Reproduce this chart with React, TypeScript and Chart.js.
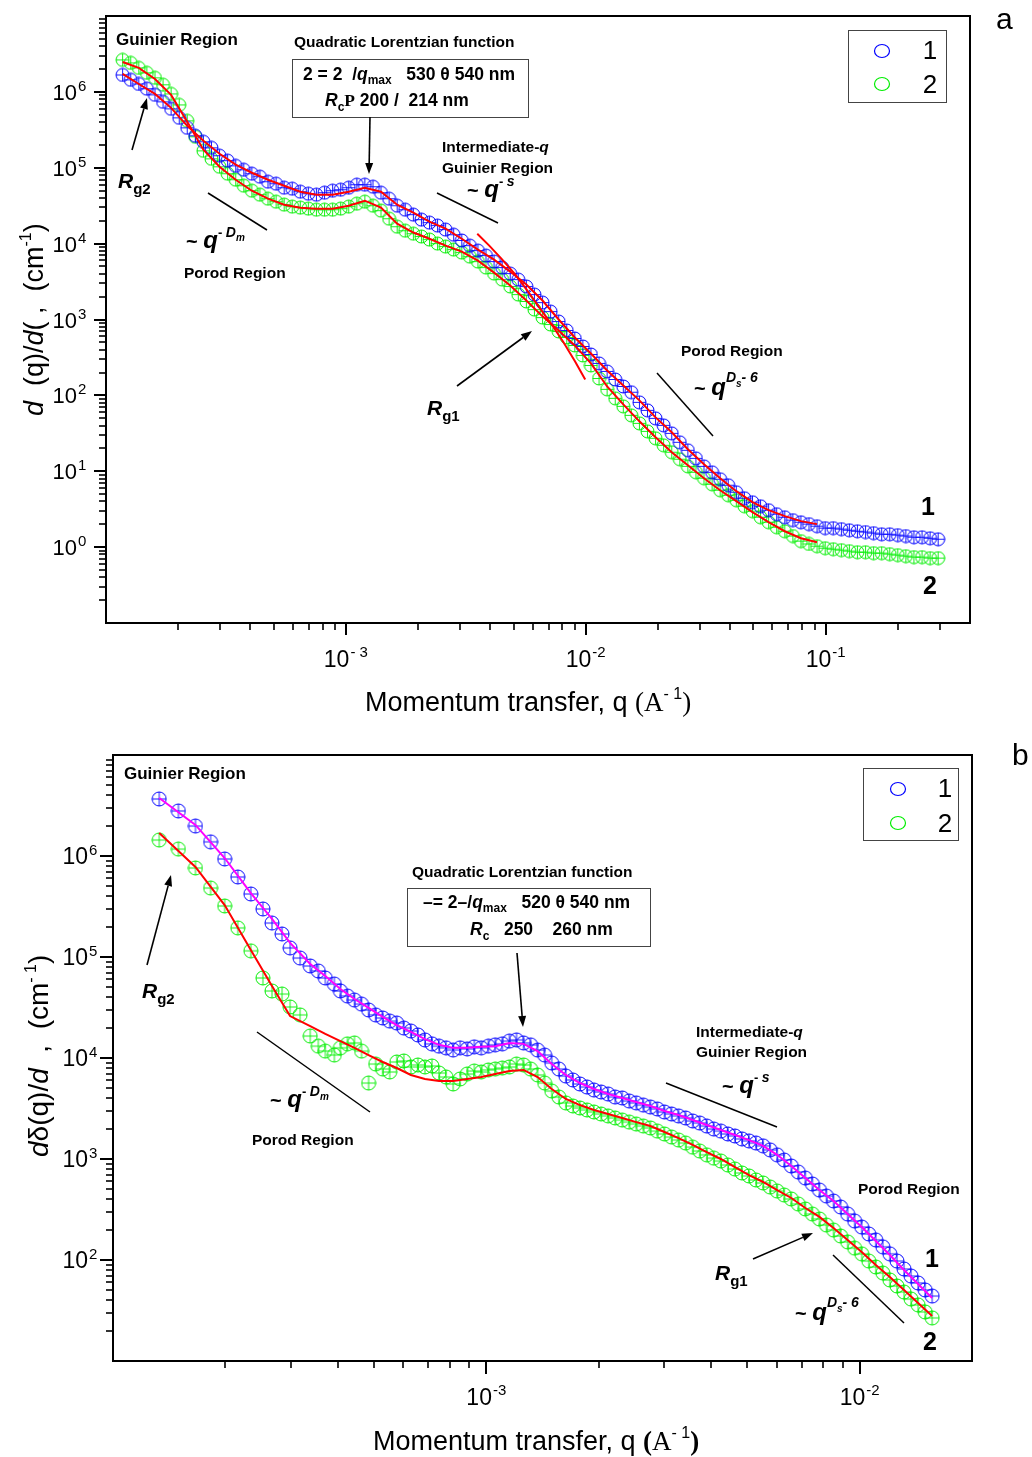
import React, { useEffect, useRef } from "react";
import { Chart, registerables } from "chart.js";

Chart.register(...registerables);

// ---------------- Panel a data ----------------
const Q_A = [
  1.173e-4, 1.268e-4, 1.370e-4, 1.480e-4, 1.600e-4, 1.729e-4, 1.868e-4, 2.019e-4, 2.181e-4, 2.357e-4,
  2.547e-4, 2.752e-4, 2.974e-4, 3.214e-4, 3.473e-4, 3.753e-4, 4.055e-4, 4.382e-4, 4.735e-4, 5.117e-4,
  5.529e-4, 5.975e-4, 6.456e-4, 6.977e-4, 7.539e-4, 8.147e-4, 8.803e-4, 9.513e-4, 1.028e-3, 1.111e-3,
  1.200e-3, 1.297e-3, 1.401e-3, 1.514e-3, 1.636e-3, 1.768e-3, 1.911e-3, 2.065e-3, 2.231e-3, 2.411e-3,
  2.605e-3, 2.815e-3, 3.042e-3, 3.287e-3, 3.552e-3, 3.838e-3, 4.148e-3, 4.482e-3, 4.843e-3, 5.234e-3,
  5.655e-3, 6.111e-3, 6.604e-3, 7.136e-3, 7.711e-3, 8.333e-3, 9.004e-3, 9.730e-3, 1.051e-2, 1.136e-2,
  1.228e-2, 1.327e-2, 1.434e-2, 1.549e-2, 1.674e-2, 1.809e-2, 1.955e-2, 2.112e-2, 2.283e-2, 2.467e-2,
  2.665e-2, 2.880e-2, 3.112e-2, 3.363e-2, 3.634e-2, 3.927e-2, 4.244e-2, 4.586e-2, 4.955e-2, 5.355e-2,
  5.786e-2, 6.253e-2, 6.757e-2, 7.301e-2, 7.890e-2, 8.526e-2, 9.213e-2, 9.956e-2, 1.076e-1, 1.163e-1,
  1.256e-1, 1.357e-1, 1.467e-1, 1.585e-1, 1.713e-1, 1.851e-1, 2.000e-1, 2.161e-1, 2.335e-1, 2.524e-1,
  2.727e-1, 2.947e-1,
];
const I1_A = [
  1.67e6, 1.44e6, 1.27e6, 1.10e6, 9.13e5, 7.39e5, 5.97e5, 4.55e5, 3.36e5, 2.64e5,
  2.20e5, 1.83e5, 1.44e5, 1.24e5, 1.06e5, 9.41e4, 8.34e4, 7.61e4, 6.54e4, 6.16e4,
  5.46e4, 5.29e4, 4.83e4, 4.55e4, 4.41e4, 4.69e4, 4.98e4, 5.13e4, 5.46e4, 5.97e4,
  5.97e4, 5.62e4, 4.69e4, 3.91e4, 3.16e4, 2.80e4, 2.41e4, 2.07e4, 1.89e4, 1.73e4,
  1.53e4, 1.31e4, 1.10e4, 9.41e3, 8.09e3, 6.95e3, 5.80e3, 4.83e3, 4.03e3, 3.36e3,
  2.72e3, 2.13e3, 1.67e3, 1.27e3, 941, 717, 562, 441, 346, 264,
  207, 162, 131, 110, 80.9, 63.5, 49.8, 40.3, 31.6, 24.1,
  18.9, 14.8, 11.6, 9.70, 7.85, 6.54, 5.29, 4.41, 3.91, 3.46,
  3.07, 2.72, 2.48, 2.27, 2.13, 2.01, 1.89, 1.78, 1.78, 1.73,
  1.67, 1.62, 1.58, 1.53, 1.48, 1.48, 1.44, 1.40, 1.35, 1.35,
  1.31, 1.27,
];
const I2_A = [
  2.64e6, 2.41e6, 2.07e6, 1.78e6, 1.53e6, 1.24e6, 9.41e5, 6.74e5, 4.15e5, 2.56e5,
  1.67e5, 1.31e5, 1.03e5, 8.34e4, 6.95e4, 5.80e4, 4.98e4, 4.41e4, 3.91e4, 3.57e4,
  3.26e4, 3.07e4, 2.98e4, 2.89e4, 2.80e4, 2.80e4, 2.80e4, 2.89e4, 3.07e4, 3.36e4,
  3.57e4, 3.16e4, 2.72e4, 2.13e4, 1.67e4, 1.48e4, 1.35e4, 1.24e4, 1.13e4, 1.00e4,
  9.13e3, 8.34e3, 7.61e3, 6.74e3, 5.80e3, 4.83e3, 4.03e3, 3.36e3, 2.72e3, 2.13e3,
  1.73e3, 1.35e3, 1.06e3, 859, 695, 580, 455, 336, 248, 167,
  120, 91.3, 71.7, 54.6, 42.8, 33.6, 27.2, 22.0, 17.8, 14.4,
  11.6, 9.70, 8.09, 6.74, 5.62, 4.83, 4.15, 3.46, 2.98, 2.48,
  2.13, 1.83, 1.62, 1.40, 1.20, 1.10, 1.03, 0.970, 0.941, 0.913,
  0.886, 0.859, 0.859, 0.834, 0.834, 0.809, 0.785, 0.761, 0.739, 0.739,
  0.717, 0.717,
];
const FIT_Q_A = [
  1.173e-4, 1.370e-4, 1.600e-4, 1.868e-4, 2.181e-4, 2.547e-4, 2.974e-4, 3.473e-4, 4.055e-4, 4.735e-4,
  5.529e-4, 6.456e-4, 7.539e-4, 8.803e-4, 1.028e-3, 1.200e-3, 1.401e-3, 1.636e-3, 1.911e-3, 2.231e-3,
  2.605e-3, 3.042e-3, 3.552e-3, 4.148e-3, 4.843e-3, 5.655e-3, 6.604e-3, 7.711e-3, 9.004e-3, 1.051e-2,
  1.228e-2, 1.434e-2, 1.674e-2, 1.955e-2, 2.283e-2, 2.665e-2, 3.112e-2, 3.634e-2, 4.244e-2, 4.955e-2,
  5.786e-2, 6.757e-2, 7.890e-2, 9.213e-2,
];
const FIT1_A = [
  1.73e6, 1.27e6, 9.41e5, 6.16e5, 3.57e5, 2.27e5, 1.53e5, 1.10e5, 8.60e4, 6.95e4,
  5.80e4, 4.83e4, 4.41e4, 4.41e4, 4.83e4, 5.46e4, 4.83e4, 3.26e4, 2.56e4, 1.95e4,
  1.58e4, 1.16e4, 8.34e3, 6.16e3, 4.28e3, 2.89e3, 1.78e3, 1.00e3, 580, 357,
  213, 135, 85.9, 51.3, 32.6, 19.5, 12.4, 8.09, 5.46, 3.91,
  3.07, 2.56, 2.20, 2.01,
];
const FIT2_A = [
  2.48e6, 2.07e6, 1.48e6, 9.13e5, 4.03e5, 1.73e5, 1.03e5, 6.95e4, 4.98e4, 3.91e4,
  3.26e4, 2.98e4, 2.89e4, 2.89e4, 3.16e4, 3.68e4, 2.98e4, 1.83e4, 1.40e4, 1.16e4,
  9.41e3, 7.85e3, 5.97e3, 4.15e3, 2.80e3, 1.78e3, 1.10e3, 717, 455, 264,
  131, 76.1, 45.5, 28.0, 17.8, 12.0, 8.09, 5.62, 4.03, 2.89,
  2.13, 1.62, 1.31, 1.16,
];
const GUIN_Q_A = [3.53e-3, 3.96e-3, 4.45e-3, 5.05e-3, 5.67e-3, 6.37e-3, 7.16e-3, 8.04e-3, 9.03e-3, 9.95e-3];
const GUIN_I_A = [1.35e4, 9.41e3, 6.35e3, 4.03e3, 2.48e3, 1.48e3, 886, 513, 280, 162];

// ---------------- Panel b data ----------------
const Q_B = [
  1.330e-4, 1.497e-4, 1.663e-4, 1.826e-4, 1.991e-4, 2.159e-4, 2.340e-4, 2.521e-4, 2.666e-4, 2.836e-4,
  2.981e-4, 3.171e-4, 3.375e-4, 3.547e-4, 3.704e-4, 3.917e-4, 4.066e-4, 4.247e-4, 4.435e-4, 4.632e-4,
  4.838e-4, 5.053e-4, 5.277e-4, 5.512e-4, 5.756e-4, 6.012e-4, 6.279e-4, 6.558e-4, 6.849e-4, 7.153e-4,
  7.471e-4, 7.803e-4, 8.149e-4, 8.511e-4, 8.889e-4, 9.284e-4, 9.696e-4, 1.013e-3, 1.057e-3, 1.104e-3,
  1.153e-3, 1.205e-3, 1.258e-3, 1.314e-3, 1.372e-3, 1.433e-3, 1.497e-3, 1.564e-3, 1.633e-3, 1.706e-3,
  1.781e-3, 1.861e-3, 1.943e-3, 2.030e-3, 2.120e-3, 2.214e-3, 2.312e-3, 2.415e-3, 2.522e-3, 2.634e-3,
  2.751e-3, 2.873e-3, 3.001e-3, 3.134e-3, 3.273e-3, 3.419e-3, 3.571e-3, 3.729e-3, 3.895e-3, 4.068e-3,
  4.248e-3, 4.437e-3, 4.634e-3, 4.840e-3, 5.055e-3, 5.279e-3, 5.514e-3, 5.758e-3, 6.014e-3, 6.281e-3,
  6.560e-3, 6.851e-3, 7.156e-3, 7.473e-3, 7.805e-3, 8.152e-3, 8.514e-3, 8.892e-3, 9.287e-3, 9.700e-3,
  1.013e-2, 1.058e-2, 1.105e-2, 1.154e-2, 1.205e-2, 1.259e-2, 1.315e-2, 1.373e-2, 1.434e-2, 1.498e-2,
  1.564e-2,
];
const I1_B = [
  3.67e6, 2.79e6, 1.98e6, 1.38e6, 9.34e5, 6.20e5, 4.21e5, 2.99e5, 2.17e5, 1.69e5,
  1.23e5, 9.77e4, 8.15e4, 7.27e4, 6.20e4, 5.40e4, 4.61e4, 4.11e4, 3.75e4, 3.42e4,
  2.99e4, 2.67e4, 2.49e4, 2.32e4, 2.22e4, 1.98e4, 1.85e4, 1.69e4, 1.51e4, 1.38e4,
  1.31e4, 1.26e4, 1.20e4, 1.26e4, 1.23e4, 1.29e4, 1.26e4, 1.31e4, 1.35e4, 1.38e4,
  1.47e4, 1.51e4, 1.41e4, 1.35e4, 1.20e4, 1.07e4, 8.92e3, 7.78e3, 6.63e3, 6.06e3,
  5.53e3, 5.16e3, 4.82e3, 4.61e3, 4.40e3, 4.11e3, 4.02e3, 3.75e3, 3.59e3, 3.42e3,
  3.27e3, 3.13e3, 2.92e3, 2.79e3, 2.67e3, 2.55e3, 2.38e3, 2.27e3, 2.12e3, 1.98e3,
  1.89e3, 1.77e3, 1.69e3, 1.58e3, 1.51e3, 1.44e3, 1.35e3, 1.23e3, 1.10e3, 978,
  853, 743, 648, 566, 493, 430, 384, 335, 285, 243,
  212, 181, 158, 135, 115, 97.7, 81.5, 69.4, 59.2, 50.5,
  44.0,
];
const I2_B = [
  1.44e6, 1.17e6, 7.61e5, 4.82e5, 3.20e5, 1.94e5, 1.15e5, 6.20e4, 4.61e4, 4.30e4,
  3.20e4, 2.67e4, 1.65e4, 1.31e4, 1.17e4, 1.07e4, 1.26e4, 1.38e4, 1.41e4, 1.17e4,
  5.65e3, 8.72e3, 7.78e3, 7.27e3, 9.13e3, 9.34e3, 8.15e3, 8.53e3, 8.15e3, 8.34e3,
  7.10e3, 6.48e3, 5.53e3, 6.20e3, 6.94e3, 7.43e3, 7.27e3, 7.61e3, 7.78e3, 7.96e3,
  8.15e3, 8.72e3, 8.53e3, 7.78e3, 6.79e3, 5.65e3, 4.71e3, 4.11e3, 3.59e3, 3.35e3,
  3.20e3, 3.06e3, 2.92e3, 2.79e3, 2.67e3, 2.55e3, 2.43e3, 2.32e3, 2.22e3, 2.12e3,
  2.03e3, 1.89e3, 1.77e3, 1.65e3, 1.54e3, 1.44e3, 1.31e3, 1.20e3, 1.10e3, 1.02e3,
  955, 872, 796, 727, 679, 620, 579, 528, 482, 440,
  402, 358, 320, 285, 255, 222, 198, 173, 151, 131,
  115, 97.7, 85.3, 74.3, 63.4, 55.3, 48.2, 41.1, 35.9, 30.6,
  26.7,
];
const FIT_Q_B = [
  1.330e-4, 1.663e-4, 1.991e-4, 2.340e-4, 2.666e-4, 2.981e-4, 3.375e-4, 3.704e-4, 4.066e-4, 4.435e-4,
  4.838e-4, 5.277e-4, 5.756e-4, 6.279e-4, 6.849e-4, 7.471e-4, 8.149e-4, 8.889e-4, 9.696e-4, 1.057e-3,
  1.153e-3, 1.258e-3, 1.372e-3, 1.497e-3, 1.633e-3, 1.781e-3, 1.943e-3, 2.120e-3, 2.312e-3, 2.522e-3,
  2.751e-3, 3.001e-3, 3.273e-3, 3.571e-3, 3.895e-3, 4.248e-3, 4.634e-3, 5.055e-3, 5.514e-3, 6.014e-3,
  6.560e-3, 7.156e-3, 7.805e-3, 8.514e-3, 9.287e-3, 1.013e-2, 1.105e-2, 1.205e-2, 1.315e-2, 1.434e-2,
  1.564e-2,
];
const FIT1_B = [
  3.75e6, 2.03e6, 9.55e5, 4.30e5, 2.38e5, 1.38e5, 8.53e4, 6.48e4, 4.82e4, 3.84e4,
  3.13e4, 2.55e4, 2.12e4, 1.81e4, 1.54e4, 1.35e4, 1.26e4, 1.26e4, 1.29e4, 1.31e4,
  1.41e4, 1.38e4, 1.17e4, 8.72e3, 6.79e3, 5.65e3, 4.93e3, 4.40e3, 4.02e3, 3.67e3,
  3.35e3, 2.99e3, 2.73e3, 2.43e3, 2.17e3, 1.94e3, 1.73e3, 1.54e3, 1.35e3, 1.10e3,
  853, 648, 493, 384, 285, 212, 154, 112, 79.6, 57.9,
  42.1,
];
const FIT2_B = [
  1.69e6, 7.78e5, 3.27e5, 1.17e5, 5.16e4, 2.60e4, 2.07e4, 1.73e4, 1.47e4, 1.26e4,
  1.07e4, 9.13e3, 7.96e3, 6.79e3, 6.20e3, 5.92e3, 5.92e3, 6.20e3, 6.48e3, 6.94e3,
  7.43e3, 7.61e3, 6.48e3, 4.93e3, 3.93e3, 3.42e3, 3.06e3, 2.79e3, 2.55e3, 2.32e3,
  2.12e3, 1.85e3, 1.61e3, 1.38e3, 1.17e3, 1.00e3, 833, 694, 592, 493,
  411, 327, 267, 207, 158, 120, 89.2, 67.9, 50.5, 37.5,
  27.9,
];

// ---------------- axis tick labels ----------------
const X_EXP_A = [-3, -2, -1];
const X_SUP_A = ["- 3", "-2", "-1"];
const Y_EXP_A = [0, 1, 2, 3, 4, 5, 6];
const X_EXP_B = [-3, -2];
const X_SUP_B = ["-3", "-2"];
const Y_EXP_B = [2, 3, 4, 5, 6];
const SERIES_NAMES = ["1", "2"];

const BLUE = "#0000ff";
const GREEN = "#00ee00";
const RED = "#ff0000";
const MAGENTA = "#ff00ff";

const SANS = '"Liberation Sans", Arial, sans-serif';
const SERIF = '"Liberation Serif", "Times New Roman", serif';
const F = (size: number, style = "") => `${style} ${size}px ${SANS}`.trim();
const FS = (size: number, style = "") => `${style} ${size}px ${SERIF}`.trim();

type Seg = [string, string, number?];

function rich(ctx: CanvasRenderingContext2D, segs: Seg[], x: number, y: number, align = "left") {
  ctx.save();
  ctx.textAlign = "left";
  ctx.textBaseline = "alphabetic";
  ctx.fillStyle = "#000";
  let w = 0;
  for (const s of segs) {
    ctx.font = s[1];
    w += ctx.measureText(s[0]).width;
  }
  let cx = align === "center" ? x - w / 2 : align === "right" ? x - w : x;
  for (const s of segs) {
    ctx.font = s[1];
    ctx.fillText(s[0], cx, y + (s[2] || 0));
    cx += ctx.measureText(s[0]).width;
  }
  ctx.restore();
}

function richRot(ctx: CanvasRenderingContext2D, segs: Seg[], x: number, y: number) {
  ctx.save();
  ctx.translate(x, y);
  ctx.rotate(-Math.PI / 2);
  rich(ctx, segs, 0, 0);
  ctx.restore();
}

function line(ctx: CanvasRenderingContext2D, x1: number, y1: number, x2: number, y2: number, w = 1.5) {
  ctx.save();
  ctx.strokeStyle = "#000";
  ctx.lineWidth = w;
  ctx.beginPath();
  ctx.moveTo(x1, y1);
  ctx.lineTo(x2, y2);
  ctx.stroke();
  ctx.restore();
}

function arrow(ctx: CanvasRenderingContext2D, x1: number, y1: number, x2: number, y2: number) {
  const ang = Math.atan2(y2 - y1, x2 - x1);
  const L = 11, H = 4;
  const bx = x2 - L * Math.cos(ang), by = y2 - L * Math.sin(ang);
  line(ctx, x1, y1, bx, by, 1.6);
  ctx.save();
  ctx.fillStyle = "#000";
  ctx.beginPath();
  ctx.moveTo(x2, y2);
  ctx.lineTo(bx + H * Math.sin(ang), by - H * Math.cos(ang));
  ctx.lineTo(bx - H * Math.sin(ang), by + H * Math.cos(ang));
  ctx.closePath();
  ctx.fill();
  ctx.restore();
}

function box(ctx: CanvasRenderingContext2D, x1: number, y1: number, x2: number, y2: number) {
  ctx.save();
  ctx.strokeStyle = "#444";
  ctx.lineWidth = 1;
  ctx.strokeRect(x1 + 0.5, y1 + 0.5, x2 - x1, y2 - y1);
  ctx.restore();
}

function legend(ctx: CanvasRenderingContext2D, x1: number, y1: number, x2: number, y2: number,
  cx: number, cy: number[], tx: number, ty: number[]) {
  box(ctx, x1, y1, x2, y2);
  const cols = [BLUE, GREEN];
  for (let i = 0; i < 2; i++) {
    ctx.save();
    ctx.strokeStyle = cols[i];
    ctx.lineWidth = 1.2;
    ctx.beginPath();
    ctx.ellipse(cx, cy[i], 7.5, 6.5, 0, 0, Math.PI * 2);
    ctx.stroke();
    ctx.restore();
    rich(ctx, [[SERIES_NAMES[i], F(26)]], tx, ty[i], "center");
  }
}

function marker(color: string, r: number) {
  const s = Math.ceil(2 * r + 2);
  const c = document.createElement("canvas");
  c.width = s;
  c.height = s;
  const g = c.getContext("2d")!;
  const m = s / 2;
  g.strokeStyle = color;
  g.lineWidth = 1;
  g.beginPath();
  g.arc(m, m, r, 0, Math.PI * 2);
  g.stroke();
  g.lineWidth = 0.9;
  g.beginPath();
  g.moveTo(m - r, m);
  g.lineTo(m + r, m);
  g.moveTo(m, m - r);
  g.lineTo(m, m + r);
  g.stroke();
  return c;
}

const zip = (xs: number[], ys: number[]) => xs.map((x, i) => ({ x, y: ys[i] }));

type Spec = {
  id: string;
  xExp: number[];
  xSup: string[];
  yExp: number[];
  yLabelRight: number;
  yFont: number;
  major: number;
  minor: number;
  ann: (ctx: CanvasRenderingContext2D) => void;
};

function decor(spec: Spec) {
  return {
    id: "decor" + spec.id,
    afterDraw(chart: any) {
      const ctx: CanvasRenderingContext2D = chart.ctx;
      const a = chart.chartArea;
      const xs = chart.scales.x;
      const ys = chart.scales.y;
      ctx.save();
      ctx.strokeStyle = "#000";
      ctx.lineWidth = 2;
      ctx.strokeRect(a.left, a.top, a.right - a.left, a.bottom - a.top);
      // x ticks
      for (let e = Math.floor(Math.log10(xs.min)); e <= Math.ceil(Math.log10(xs.max)); e++) {
        for (let m = 1; m <= 9; m++) {
          const v = m * Math.pow(10, e);
          if (v <= xs.min * 1.001 || v >= xs.max * 0.999) continue;
          const px = Math.round(xs.getPixelForValue(v));
          ctx.lineWidth = m === 1 ? 2 : 1.6;
          ctx.beginPath();
          ctx.moveTo(px, a.bottom);
          ctx.lineTo(px, a.bottom + (m === 1 ? spec.major : spec.minor));
          ctx.stroke();
        }
      }
      // y ticks
      for (let e = Math.floor(Math.log10(ys.min)); e <= Math.ceil(Math.log10(ys.max)); e++) {
        for (let m = 1; m <= 9; m++) {
          const v = m * Math.pow(10, e);
          if (v <= ys.min * 1.001 || v >= ys.max * 0.999) continue;
          const py = Math.round(ys.getPixelForValue(v));
          ctx.lineWidth = m === 1 ? 2 : 1.6;
          ctx.beginPath();
          ctx.moveTo(a.left, py);
          ctx.lineTo(a.left - (m === 1 ? spec.major : spec.minor), py);
          ctx.stroke();
        }
      }
      ctx.restore();
      // x tick labels
      spec.xExp.forEach((e, i) => {
        const px = xs.getPixelForValue(Math.pow(10, e));
        ctx.save();
        ctx.font = F(23);
        const w1 = ctx.measureText("10").width;
        ctx.font = F(15);
        const w2 = ctx.measureText(spec.xSup[i]).width;
        ctx.restore();
        const start = px - (w1 + 1 + w2) / 2;
        rich(ctx, [["10", F(23)]], start, a.bottom + 44);
        rich(ctx, [[spec.xSup[i], F(15)]], start + w1 + 1, a.bottom + 34);
      });
      // y tick labels
      spec.yExp.forEach((e) => {
        const py = ys.getPixelForValue(Math.pow(10, e));
        rich(ctx, [["10", F(spec.yFont)]], spec.yLabelRight, py + 8, "right");
        rich(ctx, [[String(e), F(15)]], spec.yLabelRight + 1, py - 1);
      });
      spec.ann(ctx);
    },
  };
}

const B = (s: number) => F(s, "bold");
const BI = (s: number) => F(s, "italic bold");

function annA(ctx: CanvasRenderingContext2D) {
  rich(ctx, [["Guinier Region", B(17)]], 116, 45);
  rich(ctx, [["Quadratic Lorentzian function", B(15.5)]], 294, 47);
  box(ctx, 292, 59, 528, 117);
  rich(ctx, [["2 = 2  /", B(17.5)], ["q", BI(17.5)], ["max", B(12), 4], ["   530 θ 540 nm", B(17.5)]], 303, 80);
  rich(ctx, [["R", BI(17.5)], ["c", B(12), 5], ["P", FS(17.5, "bold")], [" 200 /  214 nm", B(17.5)]], 325, 106);
  arrow(ctx, 370, 117, 369, 174);
  rich(ctx, [["R", BI(21)], ["g2", B(15), 6]], 118, 188);
  arrow(ctx, 132, 150, 147, 98);
  line(ctx, 208, 193, 267, 230);
  rich(ctx, [["~ ", B(20)], ["q", BI(24)], ["- ", B(13), -11], ["D", BI(14), -11], ["m", BI(10), -7]], 186, 248);
  rich(ctx, [["Porod Region", B(15.5)]], 184, 278);
  rich(ctx, [["Intermediate-", B(15.5)], ["q", BI(15.5)]], 442, 152);
  rich(ctx, [["Guinier Region", B(15.5)]], 442, 173);
  rich(ctx, [["~ ", B(20)], ["q", BI(24)], ["- ", B(13), -11], ["s", BI(14), -11]], 467, 197);
  line(ctx, 437, 193, 498, 223);
  arrow(ctx, 457, 386, 532, 331);
  rich(ctx, [["R", BI(21)], ["g1", B(15), 6]], 427, 415);
  rich(ctx, [["Porod Region", B(15.5)]], 681, 356);
  line(ctx, 657, 373, 713, 436);
  rich(ctx, [["~ ", B(20)], ["q", BI(24)], ["D", BI(14), -13], ["s", BI(10), -8], ["- 6", BI(14), -13]], 694, 395);
  rich(ctx, [["1", B(25)]], 921, 515);
  rich(ctx, [["2", B(25)]], 923, 594);
  legend(ctx, 848, 30, 946, 102, 882, [51, 84], 930, [59, 93]);
  rich(ctx, [["a", F(30)]], 996, 29);
  // axis titles
  rich(ctx, [["Momentum transfer, q ", F(27)], ["(A", FS(27)], ["- 1", F(16), -12], [")", FS(27)]], 365, 711);
  richRot(ctx, [["d", F(27, "italic")], ["  (q)/", F(27)], ["d", F(27, "italic")], ["( ,  (cm", F(27)], ["-1", F(16), -12], [")", F(27)]], 43, 416);
}

function annB(ctx: CanvasRenderingContext2D) {
  rich(ctx, [["Guinier Region", B(17)]], 124, 51);
  arrow(ctx, 147, 237, 171, 147);
  rich(ctx, [["R", BI(21)], ["g2", B(15), 6]], 142, 270);
  rich(ctx, [["Quadratic Lorentzian function", B(15.5)]], 412, 149);
  box(ctx, 407, 160, 650, 218);
  rich(ctx, [["–= 2–/", B(17.5)], ["q", BI(17.5)], ["max", B(12), 4], ["   520 θ 540 nm", B(17.5)]], 423, 180);
  rich(ctx, [["R", BI(17.5)], ["c", B(12), 5], ["   250    260 nm", B(17.5)]], 470, 207);
  arrow(ctx, 517, 225, 523, 299);
  line(ctx, 257, 304, 370, 384);
  rich(ctx, [["~ ", B(20)], ["q", BI(24)], ["- ", B(13), -11], ["D", BI(14), -11], ["m", BI(10), -7]], 270, 379);
  rich(ctx, [["Porod Region", B(15.5)]], 252, 417);
  rich(ctx, [["Intermediate-", B(15.5)], ["q", BI(15.5)]], 696, 309);
  rich(ctx, [["Guinier Region", B(15.5)]], 696, 329);
  rich(ctx, [["~ ", B(20)], ["q", BI(24)], ["- ", B(13), -11], ["s", BI(14), -11]], 722, 365);
  line(ctx, 666, 355, 777, 399);
  rich(ctx, [["Porod Region", B(15.5)]], 858, 466);
  arrow(ctx, 753, 531, 813, 505);
  rich(ctx, [["R", BI(21)], ["g1", B(15), 6]], 715, 552);
  line(ctx, 833, 527, 904, 595);
  rich(ctx, [["~ ", B(20)], ["q", BI(24)], ["D", BI(14), -13], ["s", BI(10), -8], ["- 6", BI(14), -13]], 795, 592);
  rich(ctx, [["1", B(25)]], 925, 539);
  rich(ctx, [["2", B(25)]], 923, 622);
  legend(ctx, 863, 40, 958, 112, 898, [61, 95], 945, [69, 104]);
  rich(ctx, [["b", F(30)]], 1012, 37);
  rich(ctx, [["Momentum transfer, q ", F(27)], ["(", FS(27, "bold")], ["A", FS(27)], ["- 1", F(16), -12], [")", FS(27, "bold")]], 373, 722);
  richRot(ctx, [["d", F(28, "italic")], ["δ(q)/", F(28)], ["d", F(28, "italic")], ["  ,  (cm", F(28)], ["- 1", F(16), -12], [")", F(28)]], 48, 429);
}

function makeConfig(
  panel: "a" | "b",
  markerR: number,
  fit1Color: string
): any {
  const isA = panel === "a";
  const mB = marker(BLUE, markerR);
  const mG = marker(GREEN, markerR);
  const datasets: any[] = [];
  if (isA) {
    datasets.push(
      { label: "fit1", data: zip(FIT_Q_A, FIT1_A), showLine: true, borderColor: RED, borderWidth: 2, pointRadius: 0, order: 0 },
      { label: "fit2", data: zip(FIT_Q_A, FIT2_A), showLine: true, borderColor: RED, borderWidth: 2, pointRadius: 0, order: 0 },
      { label: "guinier", data: zip(GUIN_Q_A, GUIN_I_A), showLine: true, borderColor: RED, borderWidth: 2, pointRadius: 0, order: 0 },
      { label: SERIES_NAMES[0], data: zip(Q_A, I1_A), pointStyle: mB, pointRadius: markerR, order: 1 },
      { label: SERIES_NAMES[1], data: zip(Q_A, I2_A), pointStyle: mG, pointRadius: markerR, order: 2 }
    );
  } else {
    datasets.push(
      { label: "fit1", data: zip(FIT_Q_B, FIT1_B), showLine: true, borderColor: fit1Color, borderWidth: 2, pointRadius: 0, order: 0 },
      { label: "fit2", data: zip(FIT_Q_B, FIT2_B), showLine: true, borderColor: RED, borderWidth: 2, pointRadius: 0, order: 0 },
      { label: SERIES_NAMES[0], data: zip(Q_B, I1_B), pointStyle: mB, pointRadius: markerR, order: 1 },
      { label: SERIES_NAMES[1], data: zip(Q_B, I2_B), pointStyle: mG, pointRadius: markerR, order: 2 }
    );
  }
  const spec: Spec = isA
    ? { id: "a", xExp: X_EXP_A, xSup: X_SUP_A, yExp: Y_EXP_A, yLabelRight: 77, yFont: 22, major: 12, minor: 7, ann: annA }
    : { id: "b", xExp: X_EXP_B, xSup: X_SUP_B, yExp: Y_EXP_B, yLabelRight: 88, yFont: 23, major: 13, minor: 7, ann: annB };
  return {
    type: "scatter",
    data: { datasets },
    options: {
      responsive: false,
      animation: false,
      devicePixelRatio: 1,
      events: [],
      layout: {
        padding: isA
          ? { left: 106, right: 62, top: 16, bottom: 105 }
          : { left: 113, right: 60, top: 27, bottom: 96 },
      },
      plugins: { legend: { display: false }, tooltip: { enabled: false } },
      scales: {
        x: { type: "logarithmic", min: 1e-4, max: isA ? 0.4 : 0.02, display: false },
        y: { type: "logarithmic", min: isA ? 0.1 : 10, max: 1e7, display: false },
      },
    },
    plugins: [decor(spec)],
  };
}

export default function App() {
  const refA = useRef<HTMLCanvasElement>(null);
  const refB = useRef<HTMLCanvasElement>(null);
  useEffect(() => {
    const ca = new Chart(refA.current!, makeConfig("a", 6.5, RED));
    const cb = new Chart(refB.current!, makeConfig("b", 7, MAGENTA));
    return () => {
      ca.destroy();
      cb.destroy();
    };
  }, []);
  return (
    <div style={{ position: "absolute", left: 0, top: 0, width: 1032, height: 1457, background: "#fff" }}>
      <canvas ref={refA} width={1032} height={728} style={{ position: "absolute", left: 0, top: 0, width: 1032, height: 728 }} />
      <canvas ref={refB} width={1032} height={729} style={{ position: "absolute", left: 0, top: 728, width: 1032, height: 729 }} />
    </div>
  );
}
